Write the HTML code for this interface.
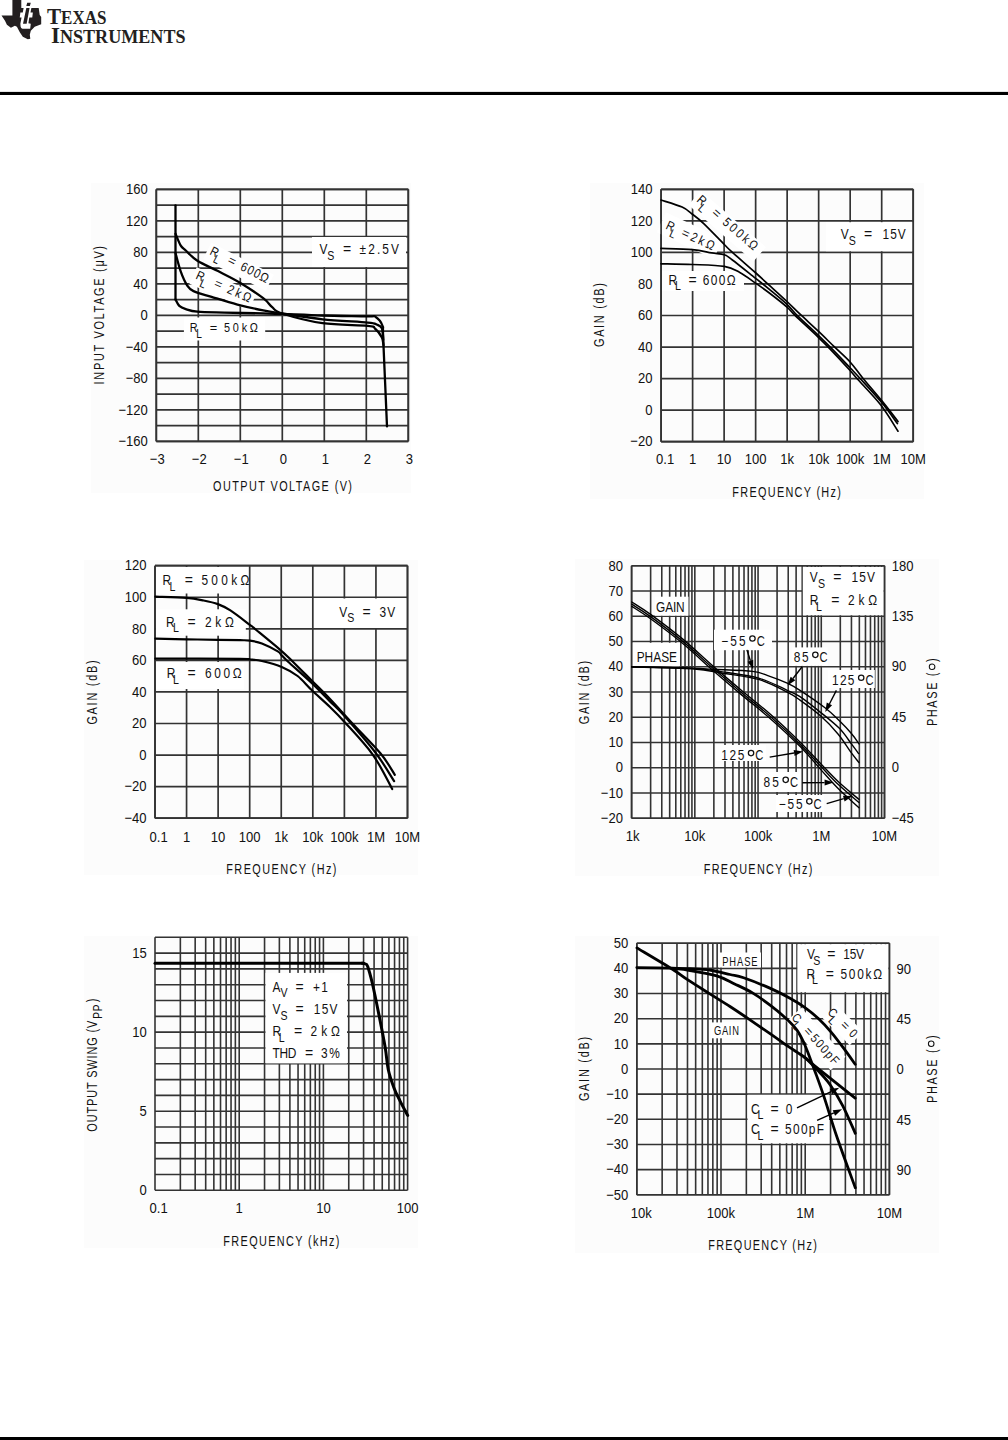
<!DOCTYPE html>
<html><head><meta charset="utf-8"><style>html,body{margin:0;padding:0;background:#fff;}svg{display:block;}</style></head>
<body><svg width="1008" height="1440" viewBox="0 0 1008 1440">
<rect width="1008" height="1440" fill="#fff"/>
<path d="M12.40,0.00 L21.30,0.00 L21.30,7.90 L38.70,7.90 L39.70,14.90 L41.20,16.90 L41.20,24.30 L34.70,26.80 L30.80,30.80 L29.80,34.70 L30.30,38.70 L27.80,39.20 L22.80,36.70 L19.80,32.20 L16.90,26.80 L14.90,25.80 L10.90,27.80 L6.90,24.80 L5.00,20.80 L1.50,15.40 L12.40,15.40 Z" fill="#231f20"/>
<path d="M23.63,8.04 L31.37,8.04 L30.48,12.5 L32.86,12.5 L32.26,17.56 L29.29,17.56 L28.39,23.21 L30.77,23.81 L30.18,28.87 L22.44,28.87 Q20.8,28.2 20.65,26.79 L20.36,23.81 L21.55,17.56 L19.76,17.56 L20.36,12.5 L22.74,12.5 Z" fill="#fff"/>
<path d="M26.31,8.04 L29.58,8.04 L26.61,23.81 L23.04,23.81 Z" fill="#231f20"/>
<path d="M27.2,2.83 L30.77,2.83 L29.88,5.95 L26.31,5.95 Z" fill="#231f20"/>
<text x="47" y="23.8" font-family="Liberation Serif" font-weight="bold" fill="#231f20" textLength="59.5" lengthAdjust="spacingAndGlyphs"><tspan font-size="23">T</tspan><tspan font-size="18.5">EXAS</tspan></text>
<text x="51" y="43.4" font-family="Liberation Serif" font-weight="bold" fill="#231f20" textLength="134.5" lengthAdjust="spacingAndGlyphs"><tspan font-size="23.5">I</tspan><tspan font-size="18.5">NSTRUMENTS</tspan></text>
<rect x="0.00" y="91.90" width="1008.00" height="3.10" fill="#000"/>
<rect x="0.00" y="1437.00" width="1008.00" height="3.00" fill="#000"/>
<rect x="91.00" y="183.00" width="320.00" height="310.00" fill="#fcfcfc"/>
<line x1="156.30" y1="189.40" x2="156.30" y2="441.30" stroke="#333" stroke-width="1.7"/>
<line x1="198.30" y1="189.40" x2="198.30" y2="441.30" stroke="#333" stroke-width="1.7"/>
<line x1="240.30" y1="189.40" x2="240.30" y2="441.30" stroke="#333" stroke-width="1.7"/>
<line x1="282.30" y1="189.40" x2="282.30" y2="441.30" stroke="#333" stroke-width="1.7"/>
<line x1="324.30" y1="189.40" x2="324.30" y2="441.30" stroke="#333" stroke-width="1.7"/>
<line x1="366.30" y1="189.40" x2="366.30" y2="441.30" stroke="#333" stroke-width="1.7"/>
<line x1="408.30" y1="189.40" x2="408.30" y2="441.30" stroke="#333" stroke-width="1.7"/>
<line x1="156.30" y1="189.40" x2="408.30" y2="189.40" stroke="#333" stroke-width="1.7"/>
<line x1="156.30" y1="205.14" x2="408.30" y2="205.14" stroke="#333" stroke-width="1.7"/>
<line x1="156.30" y1="220.89" x2="408.30" y2="220.89" stroke="#333" stroke-width="1.7"/>
<line x1="156.30" y1="236.63" x2="408.30" y2="236.63" stroke="#333" stroke-width="1.7"/>
<line x1="156.30" y1="252.38" x2="408.30" y2="252.38" stroke="#333" stroke-width="1.7"/>
<line x1="156.30" y1="268.12" x2="408.30" y2="268.12" stroke="#333" stroke-width="1.7"/>
<line x1="156.30" y1="283.86" x2="408.30" y2="283.86" stroke="#333" stroke-width="1.7"/>
<line x1="156.30" y1="299.61" x2="408.30" y2="299.61" stroke="#333" stroke-width="1.7"/>
<line x1="156.30" y1="315.35" x2="408.30" y2="315.35" stroke="#333" stroke-width="1.7"/>
<line x1="156.30" y1="331.09" x2="408.30" y2="331.09" stroke="#333" stroke-width="1.7"/>
<line x1="156.30" y1="346.84" x2="408.30" y2="346.84" stroke="#333" stroke-width="1.7"/>
<line x1="156.30" y1="362.58" x2="408.30" y2="362.58" stroke="#333" stroke-width="1.7"/>
<line x1="156.30" y1="378.33" x2="408.30" y2="378.33" stroke="#333" stroke-width="1.7"/>
<line x1="156.30" y1="394.07" x2="408.30" y2="394.07" stroke="#333" stroke-width="1.7"/>
<line x1="156.30" y1="409.81" x2="408.30" y2="409.81" stroke="#333" stroke-width="1.7"/>
<line x1="156.30" y1="425.56" x2="408.30" y2="425.56" stroke="#333" stroke-width="1.7"/>
<line x1="156.30" y1="441.30" x2="408.30" y2="441.30" stroke="#333" stroke-width="1.7"/>
<rect x="312.00" y="237.00" width="94.00" height="30.00" fill="#fff"/>
<rect x="183.90" y="317.50" width="81.30" height="23.00" fill="#fff"/>
<rect x="-3" y="-11" width="70.20" height="18" fill="#fff" transform="translate(209.00,254.00) rotate(27)"/>
<rect x="-3" y="-11" width="65.20" height="18" fill="#fff" transform="translate(195.00,278.50) rotate(24)"/>
<line x1="156.30" y1="189.40" x2="156.30" y2="441.30" stroke="#333" stroke-width="1.7"/>
<line x1="408.30" y1="189.40" x2="408.30" y2="441.30" stroke="#333" stroke-width="1.7"/>
<line x1="156.30" y1="189.40" x2="408.30" y2="189.40" stroke="#333" stroke-width="1.7"/>
<line x1="156.30" y1="441.30" x2="408.30" y2="441.30" stroke="#333" stroke-width="1.7"/>
<path d="M175.50,205.30 C175.50,221.00 175.50,283.80 175.50,299.50" fill="none" stroke="#000" stroke-width="2.3" stroke-linejoin="round" stroke-linecap="round"/>
<path d="M175.50,299.50 C176.13,300.57 177.58,304.30 179.30,305.90 C181.02,307.50 182.78,308.13 185.80,309.10 C188.82,310.07 190.95,311.12 197.40,311.70 C203.85,312.28 213.53,312.32 224.50,312.60 C235.47,312.88 253.62,313.18 263.20,313.40 C272.78,313.62 272.10,313.55 282.00,313.90 C291.90,314.25 308.32,315.10 322.60,315.50 C336.88,315.90 358.90,316.08 367.70,316.30 C376.50,316.52 372.93,315.22 375.40,316.80 C377.87,318.38 381.20,322.15 382.50,325.80 C383.80,329.45 382.45,321.93 383.20,338.70 C383.95,355.47 386.37,411.78 387.00,426.40" fill="none" stroke="#000" stroke-width="2.3" stroke-linejoin="round" stroke-linecap="round"/>
<path d="M175.50,233.70 C176.35,235.63 178.88,242.50 180.60,245.30 C182.32,248.10 183.00,247.92 185.80,250.50 C188.60,253.08 192.03,257.37 197.40,260.80 C202.77,264.23 210.90,267.45 218.00,271.10 C225.10,274.75 232.47,278.18 240.00,282.70 C247.53,287.22 257.83,294.12 263.20,298.20 C268.57,302.28 269.07,304.65 272.20,307.20 C275.33,309.75 273.60,310.83 282.00,313.50 C290.40,316.17 308.32,321.15 322.60,323.20 C336.88,325.25 358.90,324.83 367.70,325.80 C376.50,326.77 373.03,327.07 375.40,329.00 C377.77,330.93 380.55,334.73 381.90,337.40 C383.25,340.07 383.23,343.73 383.50,345.00" fill="none" stroke="#000" stroke-width="2.3" stroke-linejoin="round" stroke-linecap="round"/>
<path d="M175.50,253.00 C176.35,256.02 178.67,265.72 180.60,271.10 C182.53,276.48 184.95,281.97 187.10,285.30 C189.25,288.63 189.42,289.17 193.50,291.10 C197.58,293.03 204.28,294.65 211.60,296.90 C218.92,299.15 228.80,302.35 237.40,304.60 C246.00,306.85 255.77,308.92 263.20,310.40 C270.63,311.88 272.10,312.02 282.00,313.50 C291.90,314.98 308.32,317.78 322.60,319.30 C336.88,320.82 358.68,321.73 367.70,322.60 C376.72,323.47 374.33,323.53 376.70,324.50 C379.07,325.47 380.80,325.82 381.90,328.40 C383.00,330.98 383.07,338.07 383.30,340.00" fill="none" stroke="#000" stroke-width="2.3" stroke-linejoin="round" stroke-linecap="round"/>
<text transform="translate(147.80,194.10) scale(0.87,1)" font-family="Liberation Sans" font-size="15" font-weight="normal" fill="#111" text-anchor="end">160</text>
<text transform="translate(147.80,225.59) scale(0.87,1)" font-family="Liberation Sans" font-size="15" font-weight="normal" fill="#111" text-anchor="end">120</text>
<text transform="translate(147.80,257.07) scale(0.87,1)" font-family="Liberation Sans" font-size="15" font-weight="normal" fill="#111" text-anchor="end">80</text>
<text transform="translate(147.80,288.56) scale(0.87,1)" font-family="Liberation Sans" font-size="15" font-weight="normal" fill="#111" text-anchor="end">40</text>
<text transform="translate(147.80,320.05) scale(0.87,1)" font-family="Liberation Sans" font-size="15" font-weight="normal" fill="#111" text-anchor="end">0</text>
<text transform="translate(147.80,351.54) scale(0.87,1)" font-family="Liberation Sans" font-size="15" font-weight="normal" fill="#111" text-anchor="end">−40</text>
<text transform="translate(147.80,383.03) scale(0.87,1)" font-family="Liberation Sans" font-size="15" font-weight="normal" fill="#111" text-anchor="end">−80</text>
<text transform="translate(147.80,414.51) scale(0.87,1)" font-family="Liberation Sans" font-size="15" font-weight="normal" fill="#111" text-anchor="end">−120</text>
<text transform="translate(147.80,446.00) scale(0.87,1)" font-family="Liberation Sans" font-size="15" font-weight="normal" fill="#111" text-anchor="end">−160</text>
<text transform="translate(157.30,463.60) scale(0.87,1)" font-family="Liberation Sans" font-size="15" font-weight="normal" fill="#111" text-anchor="middle">−3</text>
<text transform="translate(199.30,463.60) scale(0.87,1)" font-family="Liberation Sans" font-size="15" font-weight="normal" fill="#111" text-anchor="middle">−2</text>
<text transform="translate(241.30,463.60) scale(0.87,1)" font-family="Liberation Sans" font-size="15" font-weight="normal" fill="#111" text-anchor="middle">−1</text>
<text transform="translate(283.30,463.60) scale(0.87,1)" font-family="Liberation Sans" font-size="15" font-weight="normal" fill="#111" text-anchor="middle">0</text>
<text transform="translate(325.30,463.60) scale(0.87,1)" font-family="Liberation Sans" font-size="15" font-weight="normal" fill="#111" text-anchor="middle">1</text>
<text transform="translate(367.30,463.60) scale(0.87,1)" font-family="Liberation Sans" font-size="15" font-weight="normal" fill="#111" text-anchor="middle">2</text>
<text transform="translate(409.30,463.60) scale(0.87,1)" font-family="Liberation Sans" font-size="15" font-weight="normal" fill="#111" text-anchor="middle">3</text>
<text transform="translate(213.00,490.60) scale(0.75,1)" font-family="Liberation Sans" font-size="14.5" font-weight="normal" fill="#111" text-anchor="start" textLength="185.33" lengthAdjust="spacing">OUTPUT VOLTAGE (V)</text>
<text transform="translate(104.00,384.40) rotate(-90) scale(0.75,1)" font-family="Liberation Sans" font-size="14.5" font-weight="normal" fill="#111" text-anchor="start" textLength="184.53" lengthAdjust="spacing">INPUT VOLTAGE (μV)</text>
<g transform="translate(319.50,254.20) rotate(0)">
<text transform="translate(0.00,0.00) scale(0.85,1)" font-family="Liberation Sans" font-size="14" font-weight="normal" fill="#111" text-anchor="start">V</text>
<text transform="translate(7.70,5.50) scale(0.85,1)" font-family="Liberation Sans" font-size="12.5" font-weight="normal" fill="#111" text-anchor="start">S</text>
<text transform="translate(23.50,0.00)" font-family="Liberation Sans" font-size="14" font-weight="normal" fill="#111" text-anchor="start">=</text>
<text transform="translate(40.10,0.00) scale(0.85,1)" font-family="Liberation Sans" font-size="14" font-weight="normal" fill="#111" text-anchor="start" textLength="46.24" lengthAdjust="spacing">±2.5V</text>
</g>
<g transform="translate(189.80,332.00) rotate(0)">
<text transform="translate(0.00,0.00) scale(0.85,1)" font-family="Liberation Sans" font-size="12.8" font-weight="normal" fill="#111" text-anchor="start">R</text>
<text transform="translate(6.50,5.50) scale(0.85,1)" font-family="Liberation Sans" font-size="12" font-weight="normal" fill="#111" text-anchor="start">L</text>
<text transform="translate(19.90,0.00)" font-family="Liberation Sans" font-size="12.8" font-weight="normal" fill="#111" text-anchor="start">=</text>
<text transform="translate(34.20,0.00) scale(0.85,1)" font-family="Liberation Sans" font-size="12.8" font-weight="normal" fill="#111" text-anchor="start" textLength="40.00" lengthAdjust="spacing">50kΩ</text>
</g>
<g transform="translate(209.00,254.00) rotate(27)">
<text transform="translate(0.00,0.00) scale(0.85,1)" font-family="Liberation Sans" font-size="13" font-weight="normal" fill="#111" text-anchor="start">R</text>
<text transform="translate(6.50,5.50) scale(0.85,1)" font-family="Liberation Sans" font-size="12" font-weight="normal" fill="#111" text-anchor="start">L</text>
<text transform="translate(19.90,0.00)" font-family="Liberation Sans" font-size="13" font-weight="normal" fill="#111" text-anchor="start">=</text>
<text transform="translate(34.20,0.00) scale(0.85,1)" font-family="Liberation Sans" font-size="13" font-weight="normal" fill="#111" text-anchor="start" textLength="35.29" lengthAdjust="spacing">600Ω</text>
</g>
<g transform="translate(195.00,278.50) rotate(24)">
<text transform="translate(0.00,0.00) scale(0.85,1)" font-family="Liberation Sans" font-size="13" font-weight="normal" fill="#111" text-anchor="start">R</text>
<text transform="translate(6.50,5.50) scale(0.85,1)" font-family="Liberation Sans" font-size="12" font-weight="normal" fill="#111" text-anchor="start">L</text>
<text transform="translate(19.90,0.00)" font-family="Liberation Sans" font-size="13" font-weight="normal" fill="#111" text-anchor="start">=</text>
<text transform="translate(34.20,0.00) scale(0.85,1)" font-family="Liberation Sans" font-size="13" font-weight="normal" fill="#111" text-anchor="start" textLength="29.41" lengthAdjust="spacing">2kΩ</text>
</g>
<rect x="590.00" y="183.00" width="334.00" height="316.00" fill="#fcfcfc"/>
<line x1="661.10" y1="189.30" x2="661.10" y2="441.70" stroke="#333" stroke-width="1.7"/>
<line x1="692.61" y1="189.30" x2="692.61" y2="441.70" stroke="#333" stroke-width="1.7"/>
<line x1="724.12" y1="189.30" x2="724.12" y2="441.70" stroke="#333" stroke-width="1.7"/>
<line x1="755.64" y1="189.30" x2="755.64" y2="441.70" stroke="#333" stroke-width="1.7"/>
<line x1="787.15" y1="189.30" x2="787.15" y2="441.70" stroke="#333" stroke-width="1.7"/>
<line x1="818.66" y1="189.30" x2="818.66" y2="441.70" stroke="#333" stroke-width="1.7"/>
<line x1="850.18" y1="189.30" x2="850.18" y2="441.70" stroke="#333" stroke-width="1.7"/>
<line x1="881.69" y1="189.30" x2="881.69" y2="441.70" stroke="#333" stroke-width="1.7"/>
<line x1="913.20" y1="189.30" x2="913.20" y2="441.70" stroke="#333" stroke-width="1.7"/>
<line x1="661.10" y1="189.30" x2="913.20" y2="189.30" stroke="#333" stroke-width="1.7"/>
<line x1="661.10" y1="220.85" x2="913.20" y2="220.85" stroke="#333" stroke-width="1.7"/>
<line x1="661.10" y1="252.40" x2="913.20" y2="252.40" stroke="#333" stroke-width="1.7"/>
<line x1="661.10" y1="283.95" x2="913.20" y2="283.95" stroke="#333" stroke-width="1.7"/>
<line x1="661.10" y1="315.50" x2="913.20" y2="315.50" stroke="#333" stroke-width="1.7"/>
<line x1="661.10" y1="347.05" x2="913.20" y2="347.05" stroke="#333" stroke-width="1.7"/>
<line x1="661.10" y1="378.60" x2="913.20" y2="378.60" stroke="#333" stroke-width="1.7"/>
<line x1="661.10" y1="410.15" x2="913.20" y2="410.15" stroke="#333" stroke-width="1.7"/>
<line x1="661.10" y1="441.70" x2="913.20" y2="441.70" stroke="#333" stroke-width="1.7"/>
<rect x="826.00" y="222.20" width="86.50" height="29.00" fill="#fff"/>
<rect x="662.00" y="271.00" width="82.00" height="20.00" fill="#fff"/>
<rect x="-3" y="-11" width="86.00" height="19" fill="#fff" transform="translate(696.00,201.00) rotate(41)"/>
<rect x="-6" y="-15" width="63.00" height="22" fill="#fff" transform="translate(665.00,228.50) rotate(25)"/>
<line x1="661.10" y1="189.30" x2="661.10" y2="441.70" stroke="#333" stroke-width="1.7"/>
<line x1="913.20" y1="189.30" x2="913.20" y2="441.70" stroke="#333" stroke-width="1.7"/>
<line x1="661.10" y1="189.30" x2="913.20" y2="189.30" stroke="#333" stroke-width="1.7"/>
<line x1="661.10" y1="441.70" x2="913.20" y2="441.70" stroke="#333" stroke-width="1.7"/>
<path d="M661.00,200.00 C664.52,201.18 676.87,204.73 682.10,207.10 C687.33,209.47 688.75,211.42 692.40,214.20 C696.05,216.98 698.68,218.75 704.00,223.80 C709.32,228.85 719.65,239.82 724.30,244.50 C728.95,249.18 726.73,247.23 731.90,251.90 C737.07,256.57 748.95,266.83 755.30,272.50 C761.65,278.17 764.72,281.07 770.00,285.90 C775.28,290.73 781.90,296.70 787.00,301.50 C792.10,306.30 795.33,309.72 800.60,314.70 C805.87,319.68 813.00,326.07 818.60,331.40 C824.20,336.73 828.92,341.57 834.20,346.70 C839.48,351.83 845.58,357.03 850.30,362.20 C855.02,367.37 857.23,371.25 862.50,377.70 C867.77,384.15 875.98,393.60 881.90,400.90 C887.82,408.20 895.32,418.07 898.00,421.50" fill="none" stroke="#000" stroke-width="1.7" stroke-linejoin="round" stroke-linecap="round"/>
<path d="M661.00,248.40 C666.23,248.60 683.95,248.85 692.40,249.60 C700.85,250.35 706.38,252.03 711.70,252.90 C717.02,253.77 720.85,253.62 724.30,254.80 C727.75,255.98 727.23,256.12 732.40,260.00 C737.57,263.88 749.03,273.13 755.30,278.10 C761.57,283.07 764.72,285.43 770.00,289.80 C775.28,294.17 782.48,300.03 787.00,304.30 C791.52,308.57 791.83,310.18 797.10,315.40 C802.37,320.62 812.70,329.93 818.60,335.60 C824.50,341.27 827.22,344.00 832.50,349.40 C837.78,354.80 845.62,363.07 850.30,368.00 C854.98,372.93 855.33,373.20 860.60,379.00 C865.87,384.80 875.77,395.38 881.90,402.80 C888.03,410.22 894.82,420.05 897.40,423.50" fill="none" stroke="#000" stroke-width="1.7" stroke-linejoin="round" stroke-linecap="round"/>
<path d="M661.00,263.80 C666.23,263.92 681.85,264.07 692.40,264.50 C702.95,264.93 716.40,265.07 724.30,266.40 C732.20,267.73 734.63,269.75 739.80,272.50 C744.97,275.25 750.27,279.40 755.30,282.90 C760.33,286.40 764.72,289.47 770.00,293.50 C775.28,297.53 782.83,303.45 787.00,307.10 C791.17,310.75 789.73,310.32 795.00,315.40 C800.27,320.48 812.70,331.93 818.60,337.60 C824.50,343.27 825.23,344.00 830.40,349.40 C835.57,354.80 845.10,365.07 849.60,370.00 C854.10,374.93 852.23,373.20 857.40,379.00 C862.57,384.80 873.83,396.10 880.60,404.80 C887.37,413.50 895.10,426.80 898.00,431.20" fill="none" stroke="#000" stroke-width="1.7" stroke-linejoin="round" stroke-linecap="round"/>
<text transform="translate(652.40,194.00) scale(0.87,1)" font-family="Liberation Sans" font-size="15" font-weight="normal" fill="#111" text-anchor="end">140</text>
<text transform="translate(652.40,225.55) scale(0.87,1)" font-family="Liberation Sans" font-size="15" font-weight="normal" fill="#111" text-anchor="end">120</text>
<text transform="translate(652.40,257.10) scale(0.87,1)" font-family="Liberation Sans" font-size="15" font-weight="normal" fill="#111" text-anchor="end">100</text>
<text transform="translate(652.40,288.65) scale(0.87,1)" font-family="Liberation Sans" font-size="15" font-weight="normal" fill="#111" text-anchor="end">80</text>
<text transform="translate(652.40,320.20) scale(0.87,1)" font-family="Liberation Sans" font-size="15" font-weight="normal" fill="#111" text-anchor="end">60</text>
<text transform="translate(652.40,351.75) scale(0.87,1)" font-family="Liberation Sans" font-size="15" font-weight="normal" fill="#111" text-anchor="end">40</text>
<text transform="translate(652.40,383.30) scale(0.87,1)" font-family="Liberation Sans" font-size="15" font-weight="normal" fill="#111" text-anchor="end">20</text>
<text transform="translate(652.40,414.85) scale(0.87,1)" font-family="Liberation Sans" font-size="15" font-weight="normal" fill="#111" text-anchor="end">0</text>
<text transform="translate(652.40,446.40) scale(0.87,1)" font-family="Liberation Sans" font-size="15" font-weight="normal" fill="#111" text-anchor="end">−20</text>
<text transform="translate(665.10,464.40) scale(0.87,1)" font-family="Liberation Sans" font-size="15" font-weight="normal" fill="#111" text-anchor="middle">0.1</text>
<text transform="translate(692.61,464.40) scale(0.87,1)" font-family="Liberation Sans" font-size="15" font-weight="normal" fill="#111" text-anchor="middle">1</text>
<text transform="translate(724.12,464.40) scale(0.87,1)" font-family="Liberation Sans" font-size="15" font-weight="normal" fill="#111" text-anchor="middle">10</text>
<text transform="translate(755.64,464.40) scale(0.87,1)" font-family="Liberation Sans" font-size="15" font-weight="normal" fill="#111" text-anchor="middle">100</text>
<text transform="translate(787.15,464.40) scale(0.87,1)" font-family="Liberation Sans" font-size="15" font-weight="normal" fill="#111" text-anchor="middle">1k</text>
<text transform="translate(818.66,464.40) scale(0.87,1)" font-family="Liberation Sans" font-size="15" font-weight="normal" fill="#111" text-anchor="middle">10k</text>
<text transform="translate(850.18,464.40) scale(0.87,1)" font-family="Liberation Sans" font-size="15" font-weight="normal" fill="#111" text-anchor="middle">100k</text>
<text transform="translate(881.69,464.40) scale(0.87,1)" font-family="Liberation Sans" font-size="15" font-weight="normal" fill="#111" text-anchor="middle">1M</text>
<text transform="translate(913.20,464.40) scale(0.87,1)" font-family="Liberation Sans" font-size="15" font-weight="normal" fill="#111" text-anchor="middle">10M</text>
<text transform="translate(732.30,496.50) scale(0.75,1)" font-family="Liberation Sans" font-size="14.5" font-weight="normal" fill="#111" text-anchor="start" textLength="144.80" lengthAdjust="spacing">FREQUENCY (Hz)</text>
<text transform="translate(603.50,347.00) rotate(-90) scale(0.75,1)" font-family="Liberation Sans" font-size="14.5" font-weight="normal" fill="#111" text-anchor="start" textLength="85.07" lengthAdjust="spacing">GAIN (dB)</text>
<g transform="translate(840.80,239.30) rotate(0)">
<text transform="translate(0.00,0.00) scale(0.85,1)" font-family="Liberation Sans" font-size="14" font-weight="normal" fill="#111" text-anchor="start">V</text>
<text transform="translate(8.00,5.50) scale(0.85,1)" font-family="Liberation Sans" font-size="12.5" font-weight="normal" fill="#111" text-anchor="start">S</text>
<text transform="translate(23.30,0.00)" font-family="Liberation Sans" font-size="14" font-weight="normal" fill="#111" text-anchor="start">=</text>
<text transform="translate(41.70,0.00) scale(0.85,1)" font-family="Liberation Sans" font-size="14" font-weight="normal" fill="#111" text-anchor="start" textLength="27.41" lengthAdjust="spacing">15V</text>
</g>
<g transform="translate(668.50,284.50) rotate(0)">
<text transform="translate(0.00,0.00) scale(0.85,1)" font-family="Liberation Sans" font-size="14" font-weight="normal" fill="#111" text-anchor="start">R</text>
<text transform="translate(6.50,5.50) scale(0.85,1)" font-family="Liberation Sans" font-size="12.5" font-weight="normal" fill="#111" text-anchor="start">L</text>
<text transform="translate(19.90,0.00)" font-family="Liberation Sans" font-size="14" font-weight="normal" fill="#111" text-anchor="start">=</text>
<text transform="translate(34.20,0.00) scale(0.85,1)" font-family="Liberation Sans" font-size="14" font-weight="normal" fill="#111" text-anchor="start" textLength="38.82" lengthAdjust="spacing">600Ω</text>
</g>
<g transform="translate(696.00,201.00) rotate(41)">
<text transform="translate(0.00,0.00) scale(0.85,1)" font-family="Liberation Sans" font-size="13" font-weight="normal" fill="#111" text-anchor="start">R</text>
<text transform="translate(6.50,5.50) scale(0.85,1)" font-family="Liberation Sans" font-size="12" font-weight="normal" fill="#111" text-anchor="start">L</text>
<text transform="translate(19.90,0.00)" font-family="Liberation Sans" font-size="13" font-weight="normal" fill="#111" text-anchor="start">=</text>
<text transform="translate(34.20,0.00) scale(0.85,1)" font-family="Liberation Sans" font-size="13" font-weight="normal" fill="#111" text-anchor="start" textLength="49.41" lengthAdjust="spacing">500kΩ</text>
</g>
<g transform="translate(665.00,228.50) rotate(25)">
<text transform="translate(0.00,0.00) scale(0.85,1)" font-family="Liberation Sans" font-size="13" font-weight="normal" fill="#111" text-anchor="start">R</text>
<text transform="translate(6.50,5.50) scale(0.85,1)" font-family="Liberation Sans" font-size="12" font-weight="normal" fill="#111" text-anchor="start">L</text>
<text transform="translate(17.00,0.00)" font-family="Liberation Sans" font-size="13" font-weight="normal" fill="#111" text-anchor="start">=</text>
<text transform="translate(27.00,0.00) scale(0.85,1)" font-family="Liberation Sans" font-size="13" font-weight="normal" fill="#111" text-anchor="start" textLength="29.41" lengthAdjust="spacing">2kΩ</text>
</g>
<rect x="84.00" y="560.00" width="334.00" height="315.00" fill="#fcfcfc"/>
<line x1="155.00" y1="565.70" x2="155.00" y2="818.20" stroke="#333" stroke-width="1.7"/>
<line x1="186.56" y1="565.70" x2="186.56" y2="818.20" stroke="#333" stroke-width="1.7"/>
<line x1="218.12" y1="565.70" x2="218.12" y2="818.20" stroke="#333" stroke-width="1.7"/>
<line x1="249.69" y1="565.70" x2="249.69" y2="818.20" stroke="#333" stroke-width="1.7"/>
<line x1="281.25" y1="565.70" x2="281.25" y2="818.20" stroke="#333" stroke-width="1.7"/>
<line x1="312.81" y1="565.70" x2="312.81" y2="818.20" stroke="#333" stroke-width="1.7"/>
<line x1="344.38" y1="565.70" x2="344.38" y2="818.20" stroke="#333" stroke-width="1.7"/>
<line x1="375.94" y1="565.70" x2="375.94" y2="818.20" stroke="#333" stroke-width="1.7"/>
<line x1="407.50" y1="565.70" x2="407.50" y2="818.20" stroke="#333" stroke-width="1.7"/>
<line x1="155.00" y1="565.70" x2="407.50" y2="565.70" stroke="#333" stroke-width="1.7"/>
<line x1="155.00" y1="597.26" x2="407.50" y2="597.26" stroke="#333" stroke-width="1.7"/>
<line x1="155.00" y1="628.83" x2="407.50" y2="628.83" stroke="#333" stroke-width="1.7"/>
<line x1="155.00" y1="660.39" x2="407.50" y2="660.39" stroke="#333" stroke-width="1.7"/>
<line x1="155.00" y1="691.95" x2="407.50" y2="691.95" stroke="#333" stroke-width="1.7"/>
<line x1="155.00" y1="723.51" x2="407.50" y2="723.51" stroke="#333" stroke-width="1.7"/>
<line x1="155.00" y1="755.08" x2="407.50" y2="755.08" stroke="#333" stroke-width="1.7"/>
<line x1="155.00" y1="786.64" x2="407.50" y2="786.64" stroke="#333" stroke-width="1.7"/>
<line x1="155.00" y1="818.20" x2="407.50" y2="818.20" stroke="#333" stroke-width="1.7"/>
<rect x="156.00" y="567.00" width="92.00" height="26.50" fill="#fff"/>
<rect x="156.00" y="609.30" width="89.80" height="26.40" fill="#fff"/>
<rect x="156.00" y="662.00" width="88.00" height="27.00" fill="#fff"/>
<rect x="314.00" y="598.50" width="92.50" height="29.50" fill="#fff"/>
<line x1="155.00" y1="565.70" x2="155.00" y2="818.20" stroke="#333" stroke-width="1.7"/>
<line x1="407.50" y1="565.70" x2="407.50" y2="818.20" stroke="#333" stroke-width="1.7"/>
<line x1="155.00" y1="565.70" x2="407.50" y2="565.70" stroke="#333" stroke-width="1.7"/>
<line x1="155.00" y1="818.20" x2="407.50" y2="818.20" stroke="#333" stroke-width="1.7"/>
<path d="M155.40,596.60 C160.60,596.82 178.57,597.25 186.60,597.90 C194.63,598.55 198.38,599.47 203.60,600.50 C208.82,601.53 213.43,602.45 217.90,604.10 C222.37,605.75 225.13,606.98 230.40,610.40 C235.67,613.82 245.18,621.33 249.50,624.60 C253.82,627.87 251.18,625.80 256.30,630.00 C261.42,634.20 274.23,644.63 280.20,649.80 C286.17,654.97 286.82,655.83 292.10,661.00 C297.38,666.17 305.58,674.47 311.90,680.80 C318.22,687.13 323.28,691.93 330.00,699.00 C336.72,706.07 343.77,714.12 352.20,723.20 C360.63,732.28 373.50,744.90 380.60,753.50 C387.70,762.10 392.43,771.25 394.80,774.80" fill="none" stroke="#000" stroke-width="2.2" stroke-linejoin="round" stroke-linecap="round"/>
<path d="M155.40,638.60 C160.60,638.72 176.18,639.10 186.60,639.30 C197.02,639.50 209.00,639.65 217.90,639.80 C226.80,639.95 234.65,640.07 240.00,640.20 C245.35,640.33 246.35,640.05 250.00,640.60 C253.65,641.15 257.27,641.70 261.90,643.50 C266.53,645.30 274.50,649.42 277.80,651.40 C281.10,653.38 279.98,653.68 281.70,655.40 C283.42,657.12 283.07,657.07 288.10,661.70 C293.13,666.33 304.92,676.58 311.90,683.20 C318.88,689.82 324.57,695.92 330.00,701.40 C335.43,706.88 336.82,707.42 344.50,716.10 C352.18,724.78 367.83,742.65 376.10,753.50 C384.37,764.35 391.10,776.58 394.10,781.20" fill="none" stroke="#000" stroke-width="2.2" stroke-linejoin="round" stroke-linecap="round"/>
<path d="M155.40,658.60 C169.50,658.65 224.23,658.77 240.00,658.90 C255.77,659.03 246.35,659.05 250.00,659.40 C253.65,659.75 256.62,659.75 261.90,661.00 C267.18,662.25 275.75,664.40 281.70,666.90 C287.65,669.40 292.57,672.10 297.60,676.00 C302.63,679.90 306.50,685.13 311.90,690.30 C317.30,695.47 324.57,701.73 330.00,707.00 C335.43,712.27 337.35,713.93 344.50,721.90 C351.65,729.87 364.95,743.62 372.90,754.80 C380.85,765.98 388.98,783.30 392.20,789.00" fill="none" stroke="#000" stroke-width="2.2" stroke-linejoin="round" stroke-linecap="round"/>
<text transform="translate(146.50,570.40) scale(0.87,1)" font-family="Liberation Sans" font-size="15" font-weight="normal" fill="#111" text-anchor="end">120</text>
<text transform="translate(146.50,601.96) scale(0.87,1)" font-family="Liberation Sans" font-size="15" font-weight="normal" fill="#111" text-anchor="end">100</text>
<text transform="translate(146.50,633.53) scale(0.87,1)" font-family="Liberation Sans" font-size="15" font-weight="normal" fill="#111" text-anchor="end">80</text>
<text transform="translate(146.50,665.09) scale(0.87,1)" font-family="Liberation Sans" font-size="15" font-weight="normal" fill="#111" text-anchor="end">60</text>
<text transform="translate(146.50,696.65) scale(0.87,1)" font-family="Liberation Sans" font-size="15" font-weight="normal" fill="#111" text-anchor="end">40</text>
<text transform="translate(146.50,728.21) scale(0.87,1)" font-family="Liberation Sans" font-size="15" font-weight="normal" fill="#111" text-anchor="end">20</text>
<text transform="translate(146.50,759.78) scale(0.87,1)" font-family="Liberation Sans" font-size="15" font-weight="normal" fill="#111" text-anchor="end">0</text>
<text transform="translate(146.50,791.34) scale(0.87,1)" font-family="Liberation Sans" font-size="15" font-weight="normal" fill="#111" text-anchor="end">−20</text>
<text transform="translate(146.50,822.90) scale(0.87,1)" font-family="Liberation Sans" font-size="15" font-weight="normal" fill="#111" text-anchor="end">−40</text>
<text transform="translate(158.60,841.80) scale(0.87,1)" font-family="Liberation Sans" font-size="15" font-weight="normal" fill="#111" text-anchor="middle">0.1</text>
<text transform="translate(186.56,841.80) scale(0.87,1)" font-family="Liberation Sans" font-size="15" font-weight="normal" fill="#111" text-anchor="middle">1</text>
<text transform="translate(218.12,841.80) scale(0.87,1)" font-family="Liberation Sans" font-size="15" font-weight="normal" fill="#111" text-anchor="middle">10</text>
<text transform="translate(249.69,841.80) scale(0.87,1)" font-family="Liberation Sans" font-size="15" font-weight="normal" fill="#111" text-anchor="middle">100</text>
<text transform="translate(281.25,841.80) scale(0.87,1)" font-family="Liberation Sans" font-size="15" font-weight="normal" fill="#111" text-anchor="middle">1k</text>
<text transform="translate(312.81,841.80) scale(0.87,1)" font-family="Liberation Sans" font-size="15" font-weight="normal" fill="#111" text-anchor="middle">10k</text>
<text transform="translate(344.38,841.80) scale(0.87,1)" font-family="Liberation Sans" font-size="15" font-weight="normal" fill="#111" text-anchor="middle">100k</text>
<text transform="translate(375.94,841.80) scale(0.87,1)" font-family="Liberation Sans" font-size="15" font-weight="normal" fill="#111" text-anchor="middle">1M</text>
<text transform="translate(407.50,841.80) scale(0.87,1)" font-family="Liberation Sans" font-size="15" font-weight="normal" fill="#111" text-anchor="middle">10M</text>
<text transform="translate(226.30,873.60) scale(0.75,1)" font-family="Liberation Sans" font-size="14.5" font-weight="normal" fill="#111" text-anchor="start" textLength="146.80" lengthAdjust="spacing">FREQUENCY (Hz)</text>
<text transform="translate(96.50,724.60) rotate(-90) scale(0.75,1)" font-family="Liberation Sans" font-size="14.5" font-weight="normal" fill="#111" text-anchor="start" textLength="85.60" lengthAdjust="spacing">GAIN (dB)</text>
<g transform="translate(339.30,616.80) rotate(0)">
<text transform="translate(0.00,0.00) scale(0.85,1)" font-family="Liberation Sans" font-size="14" font-weight="normal" fill="#111" text-anchor="start">V</text>
<text transform="translate(7.90,5.50) scale(0.85,1)" font-family="Liberation Sans" font-size="12.5" font-weight="normal" fill="#111" text-anchor="start">S</text>
<text transform="translate(23.30,0.00)" font-family="Liberation Sans" font-size="14" font-weight="normal" fill="#111" text-anchor="start">=</text>
<text transform="translate(40.10,0.00) scale(0.85,1)" font-family="Liberation Sans" font-size="14" font-weight="normal" fill="#111" text-anchor="start" textLength="18.71" lengthAdjust="spacing">3V</text>
</g>
<g transform="translate(162.50,585.00) rotate(0)">
<text transform="translate(0.00,0.00) scale(0.85,1)" font-family="Liberation Sans" font-size="14" font-weight="normal" fill="#111" text-anchor="start">R</text>
<text transform="translate(6.90,5.50) scale(0.85,1)" font-family="Liberation Sans" font-size="12.5" font-weight="normal" fill="#111" text-anchor="start">L</text>
<text transform="translate(22.20,0.00)" font-family="Liberation Sans" font-size="14" font-weight="normal" fill="#111" text-anchor="start">=</text>
<text transform="translate(38.90,0.00) scale(0.85,1)" font-family="Liberation Sans" font-size="14" font-weight="normal" fill="#111" text-anchor="start" textLength="56.35" lengthAdjust="spacing">500kΩ</text>
</g>
<g transform="translate(166.00,626.70) rotate(0)">
<text transform="translate(0.00,0.00) scale(0.85,1)" font-family="Liberation Sans" font-size="14" font-weight="normal" fill="#111" text-anchor="start">R</text>
<text transform="translate(6.90,5.50) scale(0.85,1)" font-family="Liberation Sans" font-size="12.5" font-weight="normal" fill="#111" text-anchor="start">L</text>
<text transform="translate(21.50,0.00)" font-family="Liberation Sans" font-size="14" font-weight="normal" fill="#111" text-anchor="start">=</text>
<text transform="translate(38.90,0.00) scale(0.85,1)" font-family="Liberation Sans" font-size="14" font-weight="normal" fill="#111" text-anchor="start" textLength="34.24" lengthAdjust="spacing">2kΩ</text>
</g>
<g transform="translate(166.70,678.00) rotate(0)">
<text transform="translate(0.00,0.00) scale(0.85,1)" font-family="Liberation Sans" font-size="14" font-weight="normal" fill="#111" text-anchor="start">R</text>
<text transform="translate(6.20,5.50) scale(0.85,1)" font-family="Liberation Sans" font-size="12.5" font-weight="normal" fill="#111" text-anchor="start">L</text>
<text transform="translate(20.80,0.00)" font-family="Liberation Sans" font-size="14" font-weight="normal" fill="#111" text-anchor="start">=</text>
<text transform="translate(38.20,0.00) scale(0.85,1)" font-family="Liberation Sans" font-size="14" font-weight="normal" fill="#111" text-anchor="start" textLength="43.29" lengthAdjust="spacing">600Ω</text>
</g>
<rect x="575.00" y="559.00" width="364.00" height="317.00" fill="#fcfcfc"/>
<line x1="631.60" y1="565.80" x2="631.60" y2="818.20" stroke="#333" stroke-width="1.6"/>
<line x1="650.63" y1="565.80" x2="650.63" y2="818.20" stroke="#333" stroke-width="1.6"/>
<line x1="661.77" y1="565.80" x2="661.77" y2="818.20" stroke="#333" stroke-width="1.6"/>
<line x1="669.67" y1="565.80" x2="669.67" y2="818.20" stroke="#333" stroke-width="1.6"/>
<line x1="675.79" y1="565.80" x2="675.79" y2="818.20" stroke="#333" stroke-width="1.6"/>
<line x1="680.80" y1="565.80" x2="680.80" y2="818.20" stroke="#333" stroke-width="1.6"/>
<line x1="685.03" y1="565.80" x2="685.03" y2="818.20" stroke="#333" stroke-width="1.6"/>
<line x1="688.70" y1="565.80" x2="688.70" y2="818.20" stroke="#333" stroke-width="1.6"/>
<line x1="691.93" y1="565.80" x2="691.93" y2="818.20" stroke="#333" stroke-width="1.6"/>
<line x1="694.83" y1="565.80" x2="694.83" y2="818.20" stroke="#333" stroke-width="1.6"/>
<line x1="713.86" y1="565.80" x2="713.86" y2="818.20" stroke="#333" stroke-width="1.6"/>
<line x1="724.99" y1="565.80" x2="724.99" y2="818.20" stroke="#333" stroke-width="1.6"/>
<line x1="732.89" y1="565.80" x2="732.89" y2="818.20" stroke="#333" stroke-width="1.6"/>
<line x1="739.02" y1="565.80" x2="739.02" y2="818.20" stroke="#333" stroke-width="1.6"/>
<line x1="744.02" y1="565.80" x2="744.02" y2="818.20" stroke="#333" stroke-width="1.6"/>
<line x1="748.26" y1="565.80" x2="748.26" y2="818.20" stroke="#333" stroke-width="1.6"/>
<line x1="751.92" y1="565.80" x2="751.92" y2="818.20" stroke="#333" stroke-width="1.6"/>
<line x1="755.16" y1="565.80" x2="755.16" y2="818.20" stroke="#333" stroke-width="1.6"/>
<line x1="758.05" y1="565.80" x2="758.05" y2="818.20" stroke="#333" stroke-width="1.6"/>
<line x1="777.08" y1="565.80" x2="777.08" y2="818.20" stroke="#333" stroke-width="1.6"/>
<line x1="788.22" y1="565.80" x2="788.22" y2="818.20" stroke="#333" stroke-width="1.6"/>
<line x1="796.12" y1="565.80" x2="796.12" y2="818.20" stroke="#333" stroke-width="1.6"/>
<line x1="802.24" y1="565.80" x2="802.24" y2="818.20" stroke="#333" stroke-width="1.6"/>
<line x1="807.25" y1="565.80" x2="807.25" y2="818.20" stroke="#333" stroke-width="1.6"/>
<line x1="811.48" y1="565.80" x2="811.48" y2="818.20" stroke="#333" stroke-width="1.6"/>
<line x1="815.15" y1="565.80" x2="815.15" y2="818.20" stroke="#333" stroke-width="1.6"/>
<line x1="818.38" y1="565.80" x2="818.38" y2="818.20" stroke="#333" stroke-width="1.6"/>
<line x1="821.27" y1="565.80" x2="821.27" y2="818.20" stroke="#333" stroke-width="1.6"/>
<line x1="840.31" y1="565.80" x2="840.31" y2="818.20" stroke="#333" stroke-width="1.6"/>
<line x1="851.44" y1="565.80" x2="851.44" y2="818.20" stroke="#333" stroke-width="1.6"/>
<line x1="859.34" y1="565.80" x2="859.34" y2="818.20" stroke="#333" stroke-width="1.6"/>
<line x1="865.47" y1="565.80" x2="865.47" y2="818.20" stroke="#333" stroke-width="1.6"/>
<line x1="870.47" y1="565.80" x2="870.47" y2="818.20" stroke="#333" stroke-width="1.6"/>
<line x1="874.71" y1="565.80" x2="874.71" y2="818.20" stroke="#333" stroke-width="1.6"/>
<line x1="878.37" y1="565.80" x2="878.37" y2="818.20" stroke="#333" stroke-width="1.6"/>
<line x1="881.61" y1="565.80" x2="881.61" y2="818.20" stroke="#333" stroke-width="1.6"/>
<line x1="884.50" y1="565.80" x2="884.50" y2="818.20" stroke="#333" stroke-width="1.6"/>
<line x1="631.60" y1="565.80" x2="884.50" y2="565.80" stroke="#333" stroke-width="1.6"/>
<line x1="631.60" y1="591.04" x2="884.50" y2="591.04" stroke="#333" stroke-width="1.6"/>
<line x1="631.60" y1="616.28" x2="884.50" y2="616.28" stroke="#333" stroke-width="1.6"/>
<line x1="631.60" y1="641.52" x2="884.50" y2="641.52" stroke="#333" stroke-width="1.6"/>
<line x1="631.60" y1="666.76" x2="884.50" y2="666.76" stroke="#333" stroke-width="1.6"/>
<line x1="631.60" y1="692.00" x2="884.50" y2="692.00" stroke="#333" stroke-width="1.6"/>
<line x1="631.60" y1="717.24" x2="884.50" y2="717.24" stroke="#333" stroke-width="1.6"/>
<line x1="631.60" y1="742.48" x2="884.50" y2="742.48" stroke="#333" stroke-width="1.6"/>
<line x1="631.60" y1="767.72" x2="884.50" y2="767.72" stroke="#333" stroke-width="1.6"/>
<line x1="631.60" y1="792.96" x2="884.50" y2="792.96" stroke="#333" stroke-width="1.6"/>
<line x1="631.60" y1="818.20" x2="884.50" y2="818.20" stroke="#333" stroke-width="1.6"/>
<rect x="802.80" y="567.00" width="80.80" height="48.20" fill="#fff"/>
<rect x="655.00" y="596.70" width="33.50" height="19.00" fill="#fff"/>
<rect x="632.60" y="642.80" width="47.00" height="23.50" fill="#fff"/>
<rect x="714.00" y="629.70" width="58.00" height="20.50" fill="#fff"/>
<rect x="791.70" y="647.40" width="36.00" height="18.50" fill="#fff"/>
<rect x="827.80" y="670.00" width="47.00" height="18.00" fill="#fff"/>
<rect x="716.00" y="745.00" width="50.00" height="16.00" fill="#fff"/>
<rect x="760.00" y="772.00" width="40.00" height="20.00" fill="#fff"/>
<rect x="776.00" y="795.00" width="48.00" height="17.00" fill="#fff"/>
<line x1="631.60" y1="565.80" x2="631.60" y2="818.20" stroke="#333" stroke-width="1.6"/>
<line x1="884.50" y1="565.80" x2="884.50" y2="818.20" stroke="#333" stroke-width="1.6"/>
<line x1="631.60" y1="565.80" x2="884.50" y2="565.80" stroke="#333" stroke-width="1.6"/>
<line x1="631.60" y1="818.20" x2="884.50" y2="818.20" stroke="#333" stroke-width="1.6"/>
<path d="M631.80,602.00 C634.93,604.07 642.15,608.25 650.60,614.40 C659.05,620.55 672.10,630.28 682.50,638.90 C692.90,647.52 703.05,657.42 713.00,666.10 C722.95,674.78 732.49,682.85 742.20,691.00 C751.91,699.15 761.58,706.47 771.25,715.00 C780.92,723.53 791.79,733.90 800.20,742.20 C808.61,750.49 815.25,758.08 821.70,764.77 C828.15,771.45 832.68,776.53 838.90,782.31 C845.12,788.08 855.65,796.55 859.00,799.40" fill="none" stroke="#000" stroke-width="1.4" stroke-linejoin="round" stroke-linecap="round"/>
<path d="M631.80,604.20 C634.93,606.27 642.15,610.45 650.60,616.60 C659.05,622.75 672.10,632.48 682.50,641.10 C692.90,649.72 703.05,659.62 713.00,668.30 C722.95,676.98 732.49,685.05 742.20,693.20 C751.91,701.35 761.58,708.67 771.25,717.20 C780.92,725.73 791.79,736.05 800.20,744.40 C808.61,752.75 815.25,760.52 821.70,767.30 C828.15,774.08 832.68,779.23 838.90,785.10 C845.12,790.97 855.65,799.60 859.00,802.50" fill="none" stroke="#000" stroke-width="1.4" stroke-linejoin="round" stroke-linecap="round"/>
<path d="M631.80,606.40 C634.93,608.47 642.15,612.65 650.60,618.80 C659.05,624.95 672.10,634.68 682.50,643.30 C692.90,651.92 703.05,661.82 713.00,670.50 C722.95,679.18 732.49,687.25 742.20,695.40 C751.91,703.55 761.58,710.86 771.25,719.40 C780.92,727.94 791.79,738.08 800.20,746.61 C808.61,755.14 815.25,763.49 821.70,770.60 C828.15,777.71 832.68,783.10 838.90,789.28 C845.12,795.46 855.65,804.63 859.00,807.70" fill="none" stroke="#000" stroke-width="1.4" stroke-linejoin="round" stroke-linecap="round"/>
<path d="M631.80,666.80 C641.87,667.03 678.57,667.78 692.20,668.20 C705.83,668.62 703.55,668.77 713.60,669.30 C723.65,669.83 743.47,670.35 752.50,671.40 C761.53,672.45 762.02,673.63 767.80,675.60 C773.58,677.57 781.83,680.73 787.20,683.20 C792.57,685.67 793.70,686.30 800.00,690.40 C806.30,694.50 818.52,702.82 825.00,707.80 C831.48,712.78 834.50,716.02 838.90,720.30 C843.30,724.58 848.05,729.57 851.40,733.50 C854.75,737.43 857.73,742.17 859.00,743.90" fill="none" stroke="#000" stroke-width="1.4" stroke-linejoin="round" stroke-linecap="round"/>
<path d="M631.80,666.80 C641.87,667.07 676.72,667.52 692.20,668.40 C707.68,669.28 713.50,670.45 724.70,672.10 C735.90,673.75 748.98,675.27 759.40,678.30 C769.82,681.33 780.43,687.23 787.20,690.30 C793.97,693.37 794.40,692.98 800.00,696.70 C805.60,700.42 814.20,707.28 820.80,712.60 C827.40,717.92 834.50,723.38 839.60,728.60 C844.70,733.82 848.22,739.73 851.40,743.90 C854.58,748.07 857.48,751.98 858.70,753.60" fill="none" stroke="#000" stroke-width="1.4" stroke-linejoin="round" stroke-linecap="round"/>
<path d="M631.80,667.00 C641.87,667.30 676.72,667.72 692.20,668.80 C707.68,669.88 713.50,671.68 724.70,673.50 C735.90,675.32 748.98,676.58 759.40,679.70 C769.82,682.82 780.43,688.80 787.20,692.20 C793.97,695.60 794.40,696.12 800.00,700.10 C805.60,704.08 814.43,710.42 820.80,716.10 C827.17,721.78 833.10,728.07 838.20,734.20 C843.30,740.33 847.93,748.17 851.40,752.90 C854.87,757.63 857.73,760.98 859.00,762.60" fill="none" stroke="#000" stroke-width="1.4" stroke-linejoin="round" stroke-linecap="round"/>
<line x1="746.90" y1="649.90" x2="750.42" y2="660.74" stroke="#000" stroke-width="1.4"/>
<path d="M753.20,669.30 L747.57,661.67 L753.27,659.81 Z" fill="#000"/>
<line x1="802.10" y1="666.80" x2="793.02" y2="678.49" stroke="#000" stroke-width="1.4"/>
<path d="M787.50,685.60 L790.65,676.65 L795.39,680.33 Z" fill="#000"/>
<line x1="836.40" y1="690.40" x2="829.41" y2="704.00" stroke="#000" stroke-width="1.4"/>
<path d="M825.30,712.00 L826.75,702.62 L832.08,705.37 Z" fill="#000"/>
<line x1="769.70" y1="757.10" x2="794.12" y2="752.99" stroke="#000" stroke-width="1.4"/>
<path d="M803.00,751.50 L794.62,755.95 L793.63,750.03 Z" fill="#000"/>
<line x1="802.40" y1="782.80" x2="824.60" y2="782.59" stroke="#000" stroke-width="1.4"/>
<path d="M833.60,782.50 L824.63,785.59 L824.57,779.59 Z" fill="#000"/>
<line x1="826.70" y1="803.60" x2="843.77" y2="798.55" stroke="#000" stroke-width="1.4"/>
<path d="M852.40,796.00 L844.62,801.43 L842.92,795.68 Z" fill="#000"/>
<text transform="translate(622.90,570.50) scale(0.87,1)" font-family="Liberation Sans" font-size="15" font-weight="normal" fill="#111" text-anchor="end">80</text>
<text transform="translate(622.90,595.74) scale(0.87,1)" font-family="Liberation Sans" font-size="15" font-weight="normal" fill="#111" text-anchor="end">70</text>
<text transform="translate(622.90,620.98) scale(0.87,1)" font-family="Liberation Sans" font-size="15" font-weight="normal" fill="#111" text-anchor="end">60</text>
<text transform="translate(622.90,646.22) scale(0.87,1)" font-family="Liberation Sans" font-size="15" font-weight="normal" fill="#111" text-anchor="end">50</text>
<text transform="translate(622.90,671.46) scale(0.87,1)" font-family="Liberation Sans" font-size="15" font-weight="normal" fill="#111" text-anchor="end">40</text>
<text transform="translate(622.90,696.70) scale(0.87,1)" font-family="Liberation Sans" font-size="15" font-weight="normal" fill="#111" text-anchor="end">30</text>
<text transform="translate(622.90,721.94) scale(0.87,1)" font-family="Liberation Sans" font-size="15" font-weight="normal" fill="#111" text-anchor="end">20</text>
<text transform="translate(622.90,747.18) scale(0.87,1)" font-family="Liberation Sans" font-size="15" font-weight="normal" fill="#111" text-anchor="end">10</text>
<text transform="translate(622.90,772.42) scale(0.87,1)" font-family="Liberation Sans" font-size="15" font-weight="normal" fill="#111" text-anchor="end">0</text>
<text transform="translate(622.90,797.66) scale(0.87,1)" font-family="Liberation Sans" font-size="15" font-weight="normal" fill="#111" text-anchor="end">−10</text>
<text transform="translate(622.90,822.90) scale(0.87,1)" font-family="Liberation Sans" font-size="15" font-weight="normal" fill="#111" text-anchor="end">−20</text>
<text transform="translate(891.70,570.50) scale(0.87,1)" font-family="Liberation Sans" font-size="15" font-weight="normal" fill="#111" text-anchor="start">180</text>
<text transform="translate(891.70,620.98) scale(0.87,1)" font-family="Liberation Sans" font-size="15" font-weight="normal" fill="#111" text-anchor="start">135</text>
<text transform="translate(891.70,671.46) scale(0.87,1)" font-family="Liberation Sans" font-size="15" font-weight="normal" fill="#111" text-anchor="start">90</text>
<text transform="translate(891.70,721.94) scale(0.87,1)" font-family="Liberation Sans" font-size="15" font-weight="normal" fill="#111" text-anchor="start">45</text>
<text transform="translate(891.70,772.42) scale(0.87,1)" font-family="Liberation Sans" font-size="15" font-weight="normal" fill="#111" text-anchor="start">0</text>
<text transform="translate(891.70,822.90) scale(0.87,1)" font-family="Liberation Sans" font-size="15" font-weight="normal" fill="#111" text-anchor="start">−45</text>
<text transform="translate(632.60,841.20) scale(0.87,1)" font-family="Liberation Sans" font-size="15" font-weight="normal" fill="#111" text-anchor="middle">1k</text>
<text transform="translate(694.83,841.20) scale(0.87,1)" font-family="Liberation Sans" font-size="15" font-weight="normal" fill="#111" text-anchor="middle">10k</text>
<text transform="translate(758.05,841.20) scale(0.87,1)" font-family="Liberation Sans" font-size="15" font-weight="normal" fill="#111" text-anchor="middle">100k</text>
<text transform="translate(821.27,841.20) scale(0.87,1)" font-family="Liberation Sans" font-size="15" font-weight="normal" fill="#111" text-anchor="middle">1M</text>
<text transform="translate(884.50,841.20) scale(0.87,1)" font-family="Liberation Sans" font-size="15" font-weight="normal" fill="#111" text-anchor="middle">10M</text>
<text transform="translate(703.75,873.60) scale(0.75,1)" font-family="Liberation Sans" font-size="14.5" font-weight="normal" fill="#111" text-anchor="start" textLength="144.80" lengthAdjust="spacing">FREQUENCY (Hz)</text>
<text transform="translate(589.00,724.20) rotate(-90) scale(0.75,1)" font-family="Liberation Sans" font-size="14.5" font-weight="normal" fill="#111" text-anchor="start" textLength="84.27" lengthAdjust="spacing">GAIN (dB)</text>
<g transform="translate(937.40,726.10) rotate(-90)">
<text transform="translate(0.00,0.00) scale(0.75,1)" font-family="Liberation Sans" font-size="14.5" font-weight="normal" fill="#111" text-anchor="start" textLength="71.33" lengthAdjust="spacing">PHASE (</text>
<circle cx="59.3" cy="-5.3" r="2.8" fill="none" stroke="#111" stroke-width="1.05"/>
<text transform="translate(64.00,0.00) scale(0.75,1)" font-family="Liberation Sans" font-size="14.5" font-weight="normal" fill="#111" text-anchor="start">)</text>
</g>
<g transform="translate(809.70,582.10) rotate(0)">
<text transform="translate(0.00,0.00) scale(0.85,1)" font-family="Liberation Sans" font-size="14" font-weight="normal" fill="#111" text-anchor="start">V</text>
<text transform="translate(8.30,5.50) scale(0.85,1)" font-family="Liberation Sans" font-size="12.5" font-weight="normal" fill="#111" text-anchor="start">S</text>
<text transform="translate(23.60,0.00)" font-family="Liberation Sans" font-size="14" font-weight="normal" fill="#111" text-anchor="start">=</text>
<text transform="translate(41.70,0.00) scale(0.85,1)" font-family="Liberation Sans" font-size="14" font-weight="normal" fill="#111" text-anchor="start" textLength="27.76" lengthAdjust="spacing">15V</text>
</g>
<g transform="translate(809.70,605.00) rotate(0)">
<text transform="translate(0.00,0.00) scale(0.85,1)" font-family="Liberation Sans" font-size="14" font-weight="normal" fill="#111" text-anchor="start">R</text>
<text transform="translate(6.30,5.50) scale(0.85,1)" font-family="Liberation Sans" font-size="12.5" font-weight="normal" fill="#111" text-anchor="start">L</text>
<text transform="translate(21.60,0.00)" font-family="Liberation Sans" font-size="14" font-weight="normal" fill="#111" text-anchor="start">=</text>
<text transform="translate(38.20,0.00) scale(0.85,1)" font-family="Liberation Sans" font-size="14" font-weight="normal" fill="#111" text-anchor="start" textLength="34.35" lengthAdjust="spacing">2kΩ</text>
</g>
<text transform="translate(656.10,612.00) scale(0.85,1)" font-family="Liberation Sans" font-size="14" font-weight="normal" fill="#111" text-anchor="start" textLength="33.53" lengthAdjust="spacing">GAIN</text>
<text transform="translate(636.70,662.00) scale(0.85,1)" font-family="Liberation Sans" font-size="14" font-weight="normal" fill="#111" text-anchor="start" textLength="47.41" lengthAdjust="spacing">PHASE</text>
<text transform="translate(721.25,645.70) scale(0.85,1)" font-family="Liberation Sans" font-size="14" font-weight="normal" fill="#111" text-anchor="start" textLength="28.82" lengthAdjust="spacing">−55</text>
<circle cx="752.45" cy="638.50" r="2.7" fill="none" stroke="#111" stroke-width="1.25"/>
<text transform="translate(756.65,645.70) scale(0.8,1)" font-family="Liberation Sans" font-size="14" font-weight="normal" fill="#111" text-anchor="start">C</text>
<text transform="translate(793.75,662.00) scale(0.85,1)" font-family="Liberation Sans" font-size="14" font-weight="normal" fill="#111" text-anchor="start" textLength="17.53" lengthAdjust="spacing">85</text>
<circle cx="815.35" cy="654.80" r="2.7" fill="none" stroke="#111" stroke-width="1.25"/>
<text transform="translate(819.55,662.00) scale(0.8,1)" font-family="Liberation Sans" font-size="14" font-weight="normal" fill="#111" text-anchor="start">C</text>
<text transform="translate(832.00,684.90) scale(0.85,1)" font-family="Liberation Sans" font-size="14" font-weight="normal" fill="#111" text-anchor="start" textLength="26.47" lengthAdjust="spacing">125</text>
<circle cx="861.20" cy="677.70" r="2.7" fill="none" stroke="#111" stroke-width="1.25"/>
<text transform="translate(865.40,684.90) scale(0.8,1)" font-family="Liberation Sans" font-size="14" font-weight="normal" fill="#111" text-anchor="start">C</text>
<text transform="translate(721.25,760.30) scale(0.85,1)" font-family="Liberation Sans" font-size="14" font-weight="normal" fill="#111" text-anchor="start" textLength="27.18" lengthAdjust="spacing">125</text>
<circle cx="751.05" cy="753.10" r="2.7" fill="none" stroke="#111" stroke-width="1.25"/>
<text transform="translate(755.25,760.30) scale(0.8,1)" font-family="Liberation Sans" font-size="14" font-weight="normal" fill="#111" text-anchor="start">C</text>
<text transform="translate(763.50,787.00) scale(0.85,1)" font-family="Liberation Sans" font-size="14" font-weight="normal" fill="#111" text-anchor="start" textLength="18.24" lengthAdjust="spacing">85</text>
<circle cx="785.70" cy="779.80" r="2.7" fill="none" stroke="#111" stroke-width="1.25"/>
<text transform="translate(789.90,787.00) scale(0.8,1)" font-family="Liberation Sans" font-size="14" font-weight="normal" fill="#111" text-anchor="start">C</text>
<text transform="translate(778.75,808.50) scale(0.85,1)" font-family="Liberation Sans" font-size="14" font-weight="normal" fill="#111" text-anchor="start" textLength="28.12" lengthAdjust="spacing">−55</text>
<circle cx="809.35" cy="801.30" r="2.7" fill="none" stroke="#111" stroke-width="1.25"/>
<text transform="translate(813.55,808.50) scale(0.8,1)" font-family="Liberation Sans" font-size="14" font-weight="normal" fill="#111" text-anchor="start">C</text>
<rect x="84.00" y="936.00" width="334.00" height="312.00" fill="#fcfcfc"/>
<line x1="155.00" y1="937.30" x2="155.00" y2="1190.30" stroke="#333" stroke-width="1.6"/>
<line x1="180.35" y1="937.30" x2="180.35" y2="1190.30" stroke="#333" stroke-width="1.6"/>
<line x1="195.17" y1="937.30" x2="195.17" y2="1190.30" stroke="#333" stroke-width="1.6"/>
<line x1="205.69" y1="937.30" x2="205.69" y2="1190.30" stroke="#333" stroke-width="1.6"/>
<line x1="213.85" y1="937.30" x2="213.85" y2="1190.30" stroke="#333" stroke-width="1.6"/>
<line x1="220.52" y1="937.30" x2="220.52" y2="1190.30" stroke="#333" stroke-width="1.6"/>
<line x1="226.16" y1="937.30" x2="226.16" y2="1190.30" stroke="#333" stroke-width="1.6"/>
<line x1="231.04" y1="937.30" x2="231.04" y2="1190.30" stroke="#333" stroke-width="1.6"/>
<line x1="235.35" y1="937.30" x2="235.35" y2="1190.30" stroke="#333" stroke-width="1.6"/>
<line x1="239.20" y1="937.30" x2="239.20" y2="1190.30" stroke="#333" stroke-width="1.6"/>
<line x1="264.55" y1="937.30" x2="264.55" y2="1190.30" stroke="#333" stroke-width="1.6"/>
<line x1="279.37" y1="937.30" x2="279.37" y2="1190.30" stroke="#333" stroke-width="1.6"/>
<line x1="289.89" y1="937.30" x2="289.89" y2="1190.30" stroke="#333" stroke-width="1.6"/>
<line x1="298.05" y1="937.30" x2="298.05" y2="1190.30" stroke="#333" stroke-width="1.6"/>
<line x1="304.72" y1="937.30" x2="304.72" y2="1190.30" stroke="#333" stroke-width="1.6"/>
<line x1="310.36" y1="937.30" x2="310.36" y2="1190.30" stroke="#333" stroke-width="1.6"/>
<line x1="315.24" y1="937.30" x2="315.24" y2="1190.30" stroke="#333" stroke-width="1.6"/>
<line x1="319.55" y1="937.30" x2="319.55" y2="1190.30" stroke="#333" stroke-width="1.6"/>
<line x1="323.40" y1="937.30" x2="323.40" y2="1190.30" stroke="#333" stroke-width="1.6"/>
<line x1="348.75" y1="937.30" x2="348.75" y2="1190.30" stroke="#333" stroke-width="1.6"/>
<line x1="363.57" y1="937.30" x2="363.57" y2="1190.30" stroke="#333" stroke-width="1.6"/>
<line x1="374.09" y1="937.30" x2="374.09" y2="1190.30" stroke="#333" stroke-width="1.6"/>
<line x1="382.25" y1="937.30" x2="382.25" y2="1190.30" stroke="#333" stroke-width="1.6"/>
<line x1="388.92" y1="937.30" x2="388.92" y2="1190.30" stroke="#333" stroke-width="1.6"/>
<line x1="394.56" y1="937.30" x2="394.56" y2="1190.30" stroke="#333" stroke-width="1.6"/>
<line x1="399.44" y1="937.30" x2="399.44" y2="1190.30" stroke="#333" stroke-width="1.6"/>
<line x1="403.75" y1="937.30" x2="403.75" y2="1190.30" stroke="#333" stroke-width="1.6"/>
<line x1="407.60" y1="937.30" x2="407.60" y2="1190.30" stroke="#333" stroke-width="1.6"/>
<line x1="155.00" y1="937.30" x2="407.60" y2="937.30" stroke="#333" stroke-width="1.6"/>
<line x1="155.00" y1="953.11" x2="407.60" y2="953.11" stroke="#333" stroke-width="1.6"/>
<line x1="155.00" y1="968.92" x2="407.60" y2="968.92" stroke="#333" stroke-width="1.6"/>
<line x1="155.00" y1="984.74" x2="407.60" y2="984.74" stroke="#333" stroke-width="1.6"/>
<line x1="155.00" y1="1000.55" x2="407.60" y2="1000.55" stroke="#333" stroke-width="1.6"/>
<line x1="155.00" y1="1016.36" x2="407.60" y2="1016.36" stroke="#333" stroke-width="1.6"/>
<line x1="155.00" y1="1032.17" x2="407.60" y2="1032.17" stroke="#333" stroke-width="1.6"/>
<line x1="155.00" y1="1047.99" x2="407.60" y2="1047.99" stroke="#333" stroke-width="1.6"/>
<line x1="155.00" y1="1063.80" x2="407.60" y2="1063.80" stroke="#333" stroke-width="1.6"/>
<line x1="155.00" y1="1079.61" x2="407.60" y2="1079.61" stroke="#333" stroke-width="1.6"/>
<line x1="155.00" y1="1095.42" x2="407.60" y2="1095.42" stroke="#333" stroke-width="1.6"/>
<line x1="155.00" y1="1111.24" x2="407.60" y2="1111.24" stroke="#333" stroke-width="1.6"/>
<line x1="155.00" y1="1127.05" x2="407.60" y2="1127.05" stroke="#333" stroke-width="1.6"/>
<line x1="155.00" y1="1142.86" x2="407.60" y2="1142.86" stroke="#333" stroke-width="1.6"/>
<line x1="155.00" y1="1158.67" x2="407.60" y2="1158.67" stroke="#333" stroke-width="1.6"/>
<line x1="155.00" y1="1174.49" x2="407.60" y2="1174.49" stroke="#333" stroke-width="1.6"/>
<line x1="155.00" y1="1190.30" x2="407.60" y2="1190.30" stroke="#333" stroke-width="1.6"/>
<rect x="265.50" y="972.90" width="81.50" height="90.50" fill="#fff"/>
<path d="M155.00,963.20 C189.78,963.20 328.92,963.20 363.70,963.20" fill="none" stroke="#000" stroke-width="3.0" stroke-linejoin="round" stroke-linecap="round"/>
<path d="M362.00,963.20 C362.58,963.33 364.55,963.45 365.50,964.00 C366.45,964.55 366.53,963.17 367.70,966.50 C368.87,969.83 370.65,976.07 372.50,984.00 C374.35,991.93 376.68,1003.52 378.80,1014.10 C380.92,1024.68 383.62,1038.23 385.20,1047.50 C386.78,1056.77 386.82,1062.92 388.30,1069.70 C389.78,1076.48 392.15,1083.02 394.10,1088.20 C396.05,1093.38 397.73,1096.27 400.00,1100.80 C402.27,1105.33 406.42,1112.97 407.70,1115.40" fill="none" stroke="#000" stroke-width="3.0" stroke-linejoin="round" stroke-linecap="round"/>
<text transform="translate(146.80,958.00) scale(0.87,1)" font-family="Liberation Sans" font-size="15" font-weight="normal" fill="#111" text-anchor="end">15</text>
<text transform="translate(146.80,1037.20) scale(0.87,1)" font-family="Liberation Sans" font-size="15" font-weight="normal" fill="#111" text-anchor="end">10</text>
<text transform="translate(146.80,1116.10) scale(0.87,1)" font-family="Liberation Sans" font-size="15" font-weight="normal" fill="#111" text-anchor="end">5</text>
<text transform="translate(146.80,1195.30) scale(0.87,1)" font-family="Liberation Sans" font-size="15" font-weight="normal" fill="#111" text-anchor="end">0</text>
<text transform="translate(158.60,1213.20) scale(0.87,1)" font-family="Liberation Sans" font-size="15" font-weight="normal" fill="#111" text-anchor="middle">0.1</text>
<text transform="translate(239.20,1213.20) scale(0.87,1)" font-family="Liberation Sans" font-size="15" font-weight="normal" fill="#111" text-anchor="middle">1</text>
<text transform="translate(323.40,1213.20) scale(0.87,1)" font-family="Liberation Sans" font-size="15" font-weight="normal" fill="#111" text-anchor="middle">10</text>
<text transform="translate(407.60,1213.20) scale(0.87,1)" font-family="Liberation Sans" font-size="15" font-weight="normal" fill="#111" text-anchor="middle">100</text>
<text transform="translate(223.30,1246.00) scale(0.75,1)" font-family="Liberation Sans" font-size="14.5" font-weight="normal" fill="#111" text-anchor="start" textLength="154.80" lengthAdjust="spacing">FREQUENCY (kHz)</text>
<g transform="translate(97,1131.7) rotate(-90)">
<text transform="translate(0.00,0.00) scale(0.75,1)" font-family="Liberation Sans" font-size="14.5" font-weight="normal" fill="#111" text-anchor="start" textLength="148.00" lengthAdjust="spacing">OUTPUT SWING (V</text>
<text transform="translate(113.00,4.50) scale(0.8,1)" font-family="Liberation Sans" font-size="12.5" font-weight="normal" fill="#111" text-anchor="start" textLength="17.50" lengthAdjust="spacing">PP</text>
<text transform="translate(129.50,0.00) scale(0.75,1)" font-family="Liberation Sans" font-size="14.5" font-weight="normal" fill="#111" text-anchor="start">)</text>
</g>
<g transform="translate(272.50,991.90) rotate(0)">
<text transform="translate(0.00,0.00) scale(0.85,1)" font-family="Liberation Sans" font-size="14" font-weight="normal" fill="#111" text-anchor="start">A</text>
<text transform="translate(7.90,5.50) scale(0.85,1)" font-family="Liberation Sans" font-size="12.5" font-weight="normal" fill="#111" text-anchor="start">V</text>
<text transform="translate(23.00,0.00)" font-family="Liberation Sans" font-size="14" font-weight="normal" fill="#111" text-anchor="start">=</text>
<text transform="translate(40.40,0.00) scale(0.85,1)" font-family="Liberation Sans" font-size="14" font-weight="normal" fill="#111" text-anchor="start" textLength="17.76" lengthAdjust="spacing">+1</text>
</g>
<g transform="translate(272.50,1014.10) rotate(0)">
<text transform="translate(0.00,0.00) scale(0.85,1)" font-family="Liberation Sans" font-size="14" font-weight="normal" fill="#111" text-anchor="start">V</text>
<text transform="translate(7.90,5.50) scale(0.85,1)" font-family="Liberation Sans" font-size="12.5" font-weight="normal" fill="#111" text-anchor="start">S</text>
<text transform="translate(23.00,0.00)" font-family="Liberation Sans" font-size="14" font-weight="normal" fill="#111" text-anchor="start">=</text>
<text transform="translate(41.20,0.00) scale(0.85,1)" font-family="Liberation Sans" font-size="14" font-weight="normal" fill="#111" text-anchor="start" textLength="28.00" lengthAdjust="spacing">15V</text>
</g>
<g transform="translate(272.50,1036.30) rotate(0)">
<text transform="translate(0.00,0.00) scale(0.85,1)" font-family="Liberation Sans" font-size="14" font-weight="normal" fill="#111" text-anchor="start">R</text>
<text transform="translate(6.30,5.50) scale(0.85,1)" font-family="Liberation Sans" font-size="12.5" font-weight="normal" fill="#111" text-anchor="start">L</text>
<text transform="translate(21.40,0.00)" font-family="Liberation Sans" font-size="14" font-weight="normal" fill="#111" text-anchor="start">=</text>
<text transform="translate(38.10,0.00) scale(0.85,1)" font-family="Liberation Sans" font-size="14" font-weight="normal" fill="#111" text-anchor="start" textLength="34.47" lengthAdjust="spacing">2kΩ</text>
</g>
<text transform="translate(272.50,1057.80) scale(0.85,1)" font-family="Liberation Sans" font-size="14" font-weight="normal" fill="#111" text-anchor="start" textLength="28.00" lengthAdjust="spacing">THD</text>
<text transform="translate(305.00,1057.80)" font-family="Liberation Sans" font-size="14" font-weight="normal" fill="#111" text-anchor="start">=</text>
<text transform="translate(320.90,1057.80) scale(0.85,1)" font-family="Liberation Sans" font-size="14" font-weight="normal" fill="#111" text-anchor="start" textLength="22.35" lengthAdjust="spacing">3%</text>
<rect x="575.00" y="936.00" width="364.00" height="317.00" fill="#fcfcfc"/>
<line x1="636.80" y1="943.20" x2="636.80" y2="1194.80" stroke="#333" stroke-width="1.6"/>
<line x1="662.15" y1="943.20" x2="662.15" y2="1194.80" stroke="#333" stroke-width="1.6"/>
<line x1="676.97" y1="943.20" x2="676.97" y2="1194.80" stroke="#333" stroke-width="1.6"/>
<line x1="687.49" y1="943.20" x2="687.49" y2="1194.80" stroke="#333" stroke-width="1.6"/>
<line x1="695.65" y1="943.20" x2="695.65" y2="1194.80" stroke="#333" stroke-width="1.6"/>
<line x1="702.32" y1="943.20" x2="702.32" y2="1194.80" stroke="#333" stroke-width="1.6"/>
<line x1="707.96" y1="943.20" x2="707.96" y2="1194.80" stroke="#333" stroke-width="1.6"/>
<line x1="712.84" y1="943.20" x2="712.84" y2="1194.80" stroke="#333" stroke-width="1.6"/>
<line x1="717.15" y1="943.20" x2="717.15" y2="1194.80" stroke="#333" stroke-width="1.6"/>
<line x1="721.00" y1="943.20" x2="721.00" y2="1194.80" stroke="#333" stroke-width="1.6"/>
<line x1="746.35" y1="943.20" x2="746.35" y2="1194.80" stroke="#333" stroke-width="1.6"/>
<line x1="761.17" y1="943.20" x2="761.17" y2="1194.80" stroke="#333" stroke-width="1.6"/>
<line x1="771.69" y1="943.20" x2="771.69" y2="1194.80" stroke="#333" stroke-width="1.6"/>
<line x1="779.85" y1="943.20" x2="779.85" y2="1194.80" stroke="#333" stroke-width="1.6"/>
<line x1="786.52" y1="943.20" x2="786.52" y2="1194.80" stroke="#333" stroke-width="1.6"/>
<line x1="792.16" y1="943.20" x2="792.16" y2="1194.80" stroke="#333" stroke-width="1.6"/>
<line x1="797.04" y1="943.20" x2="797.04" y2="1194.80" stroke="#333" stroke-width="1.6"/>
<line x1="801.35" y1="943.20" x2="801.35" y2="1194.80" stroke="#333" stroke-width="1.6"/>
<line x1="805.20" y1="943.20" x2="805.20" y2="1194.80" stroke="#333" stroke-width="1.6"/>
<line x1="830.55" y1="943.20" x2="830.55" y2="1194.80" stroke="#333" stroke-width="1.6"/>
<line x1="845.37" y1="943.20" x2="845.37" y2="1194.80" stroke="#333" stroke-width="1.6"/>
<line x1="855.89" y1="943.20" x2="855.89" y2="1194.80" stroke="#333" stroke-width="1.6"/>
<line x1="864.05" y1="943.20" x2="864.05" y2="1194.80" stroke="#333" stroke-width="1.6"/>
<line x1="870.72" y1="943.20" x2="870.72" y2="1194.80" stroke="#333" stroke-width="1.6"/>
<line x1="876.36" y1="943.20" x2="876.36" y2="1194.80" stroke="#333" stroke-width="1.6"/>
<line x1="881.24" y1="943.20" x2="881.24" y2="1194.80" stroke="#333" stroke-width="1.6"/>
<line x1="885.55" y1="943.20" x2="885.55" y2="1194.80" stroke="#333" stroke-width="1.6"/>
<line x1="889.40" y1="943.20" x2="889.40" y2="1194.80" stroke="#333" stroke-width="1.6"/>
<line x1="636.80" y1="943.20" x2="889.40" y2="943.20" stroke="#333" stroke-width="1.6"/>
<line x1="636.80" y1="968.36" x2="889.40" y2="968.36" stroke="#333" stroke-width="1.6"/>
<line x1="636.80" y1="993.52" x2="889.40" y2="993.52" stroke="#333" stroke-width="1.6"/>
<line x1="636.80" y1="1018.68" x2="889.40" y2="1018.68" stroke="#333" stroke-width="1.6"/>
<line x1="636.80" y1="1043.84" x2="889.40" y2="1043.84" stroke="#333" stroke-width="1.6"/>
<line x1="636.80" y1="1069.00" x2="889.40" y2="1069.00" stroke="#333" stroke-width="1.6"/>
<line x1="636.80" y1="1094.16" x2="889.40" y2="1094.16" stroke="#333" stroke-width="1.6"/>
<line x1="636.80" y1="1119.32" x2="889.40" y2="1119.32" stroke="#333" stroke-width="1.6"/>
<line x1="636.80" y1="1144.48" x2="889.40" y2="1144.48" stroke="#333" stroke-width="1.6"/>
<line x1="636.80" y1="1169.64" x2="889.40" y2="1169.64" stroke="#333" stroke-width="1.6"/>
<line x1="636.80" y1="1194.80" x2="889.40" y2="1194.80" stroke="#333" stroke-width="1.6"/>
<rect x="797.40" y="944.20" width="91.00" height="48.00" fill="#fff"/>
<rect x="719.00" y="952.50" width="42.00" height="15.00" fill="#fff"/>
<rect x="711.00" y="1022.40" width="31.00" height="15.90" fill="#fff"/>
<rect x="747.60" y="1094.70" width="81.40" height="48.60" fill="#fff"/>
<rect x="-33.00" y="-10.00" width="66.00" height="20.00" fill="#fff" transform="translate(816.00,1039.00) rotate(48)"/>
<rect x="-19.00" y="-9.50" width="38.00" height="19.00" fill="#fff" transform="translate(843.00,1025.00) rotate(45)"/>
<line x1="636.80" y1="943.20" x2="636.80" y2="1194.80" stroke="#333" stroke-width="1.6"/>
<line x1="889.40" y1="943.20" x2="889.40" y2="1194.80" stroke="#333" stroke-width="1.6"/>
<line x1="636.80" y1="943.20" x2="889.40" y2="943.20" stroke="#333" stroke-width="1.6"/>
<line x1="636.80" y1="1194.80" x2="889.40" y2="1194.80" stroke="#333" stroke-width="1.6"/>
<path d="M636.90,947.90 C642.70,951.38 663.27,963.50 671.70,968.80 C680.13,974.10 681.22,975.57 687.50,979.70 C693.78,983.83 702.32,989.13 709.40,993.60 C716.48,998.07 723.72,1002.45 730.00,1006.50 C736.28,1010.55 740.37,1013.33 747.10,1017.90 C753.83,1022.47 763.55,1029.15 770.40,1033.90 C777.25,1038.65 782.55,1042.53 788.20,1046.40 C793.85,1050.27 799.83,1053.82 804.30,1057.10 C808.77,1060.38 810.23,1062.22 815.00,1066.10 C819.77,1069.98 826.20,1075.05 832.90,1080.40 C839.60,1085.75 851.48,1095.23 855.20,1098.20" fill="none" stroke="#000" stroke-width="2.8" stroke-linejoin="round" stroke-linecap="round"/>
<path d="M804.30,1057.10 C804.90,1057.62 804.93,1057.22 807.90,1060.20 C810.87,1063.18 818.37,1070.87 822.10,1075.00 C825.83,1079.13 826.85,1079.87 830.30,1085.00 C833.75,1090.13 838.63,1097.75 842.80,1105.80 C846.97,1113.85 853.22,1128.72 855.30,1133.30" fill="none" stroke="#000" stroke-width="2.8" stroke-linejoin="round" stroke-linecap="round"/>
<path d="M636.80,967.60 C642.70,967.70 663.33,968.01 672.20,968.20 C681.07,968.39 683.80,968.45 690.00,968.75 C696.20,969.05 702.73,969.04 709.40,970.00 C716.07,970.96 724.30,973.20 730.00,974.50 C735.70,975.80 736.87,975.48 743.60,977.80 C750.33,980.12 762.67,985.00 770.40,988.40 C778.13,991.80 784.35,995.08 790.00,998.20 C795.65,1001.32 799.53,1003.68 804.30,1007.10 C809.07,1010.52 814.13,1014.58 818.60,1018.75 C823.07,1022.92 826.93,1027.19 831.10,1032.10 C835.27,1037.01 839.58,1042.83 843.60,1048.20 C847.62,1053.57 853.27,1061.62 855.20,1064.30" fill="none" stroke="#000" stroke-width="2.8" stroke-linejoin="round" stroke-linecap="round"/>
<path d="M672.20,968.40 C675.17,968.75 682.57,969.25 690.00,970.50 C697.43,971.75 709.37,973.67 716.80,975.90 C724.23,978.13 728.65,981.07 734.60,983.90 C740.55,986.73 746.53,989.32 752.50,992.90 C758.47,996.48 764.75,1001.09 770.40,1005.40 C776.05,1009.71 781.95,1014.58 786.40,1018.75 C790.85,1022.92 794.12,1026.23 797.10,1030.40 C800.08,1034.57 802.22,1039.30 804.30,1043.75 C806.38,1048.20 807.82,1052.49 809.60,1057.10 C811.38,1061.71 812.62,1064.85 815.00,1071.40 C817.38,1077.95 820.20,1085.33 823.90,1096.40 C827.60,1107.47 831.97,1122.57 837.20,1137.80 C842.43,1153.03 852.28,1179.47 855.30,1187.80" fill="none" stroke="#000" stroke-width="2.8" stroke-linejoin="round" stroke-linecap="round"/>
<line x1="797.00" y1="1107.90" x2="831.17" y2="1091.66" stroke="#000" stroke-width="1.4"/>
<path d="M839.30,1087.80 L832.46,1094.37 L829.88,1088.95 Z" fill="#000"/>
<line x1="817.10" y1="1120.40" x2="833.87" y2="1112.95" stroke="#000" stroke-width="1.4"/>
<path d="M842.10,1109.30 L835.09,1115.69 L832.66,1110.21 Z" fill="#000"/>
<text transform="translate(628.30,947.90) scale(0.87,1)" font-family="Liberation Sans" font-size="15" font-weight="normal" fill="#111" text-anchor="end">50</text>
<text transform="translate(628.30,973.06) scale(0.87,1)" font-family="Liberation Sans" font-size="15" font-weight="normal" fill="#111" text-anchor="end">40</text>
<text transform="translate(628.30,998.22) scale(0.87,1)" font-family="Liberation Sans" font-size="15" font-weight="normal" fill="#111" text-anchor="end">30</text>
<text transform="translate(628.30,1023.38) scale(0.87,1)" font-family="Liberation Sans" font-size="15" font-weight="normal" fill="#111" text-anchor="end">20</text>
<text transform="translate(628.30,1048.54) scale(0.87,1)" font-family="Liberation Sans" font-size="15" font-weight="normal" fill="#111" text-anchor="end">10</text>
<text transform="translate(628.30,1073.70) scale(0.87,1)" font-family="Liberation Sans" font-size="15" font-weight="normal" fill="#111" text-anchor="end">0</text>
<text transform="translate(628.30,1098.86) scale(0.87,1)" font-family="Liberation Sans" font-size="15" font-weight="normal" fill="#111" text-anchor="end">−10</text>
<text transform="translate(628.30,1124.02) scale(0.87,1)" font-family="Liberation Sans" font-size="15" font-weight="normal" fill="#111" text-anchor="end">−20</text>
<text transform="translate(628.30,1149.18) scale(0.87,1)" font-family="Liberation Sans" font-size="15" font-weight="normal" fill="#111" text-anchor="end">−30</text>
<text transform="translate(628.30,1174.34) scale(0.87,1)" font-family="Liberation Sans" font-size="15" font-weight="normal" fill="#111" text-anchor="end">−40</text>
<text transform="translate(628.30,1199.50) scale(0.87,1)" font-family="Liberation Sans" font-size="15" font-weight="normal" fill="#111" text-anchor="end">−50</text>
<text transform="translate(896.50,973.56) scale(0.87,1)" font-family="Liberation Sans" font-size="15" font-weight="normal" fill="#111" text-anchor="start">90</text>
<text transform="translate(896.50,1023.88) scale(0.87,1)" font-family="Liberation Sans" font-size="15" font-weight="normal" fill="#111" text-anchor="start">45</text>
<text transform="translate(896.50,1074.20) scale(0.87,1)" font-family="Liberation Sans" font-size="15" font-weight="normal" fill="#111" text-anchor="start">0</text>
<text transform="translate(896.50,1124.52) scale(0.87,1)" font-family="Liberation Sans" font-size="15" font-weight="normal" fill="#111" text-anchor="start">45</text>
<text transform="translate(896.50,1174.84) scale(0.87,1)" font-family="Liberation Sans" font-size="15" font-weight="normal" fill="#111" text-anchor="start">90</text>
<text transform="translate(641.20,1218.30) scale(0.87,1)" font-family="Liberation Sans" font-size="15" font-weight="normal" fill="#111" text-anchor="middle">10k</text>
<text transform="translate(721.00,1218.30) scale(0.87,1)" font-family="Liberation Sans" font-size="15" font-weight="normal" fill="#111" text-anchor="middle">100k</text>
<text transform="translate(805.20,1218.30) scale(0.87,1)" font-family="Liberation Sans" font-size="15" font-weight="normal" fill="#111" text-anchor="middle">1M</text>
<text transform="translate(889.40,1218.30) scale(0.87,1)" font-family="Liberation Sans" font-size="15" font-weight="normal" fill="#111" text-anchor="middle">10M</text>
<text transform="translate(708.20,1250.40) scale(0.75,1)" font-family="Liberation Sans" font-size="14.5" font-weight="normal" fill="#111" text-anchor="start" textLength="144.80" lengthAdjust="spacing">FREQUENCY (Hz)</text>
<text transform="translate(588.50,1101.10) rotate(-90) scale(0.75,1)" font-family="Liberation Sans" font-size="14.5" font-weight="normal" fill="#111" text-anchor="start" textLength="85.60" lengthAdjust="spacing">GAIN (dB)</text>
<g transform="translate(936.50,1103.00) rotate(-90)">
<text transform="translate(0.00,0.00) scale(0.75,1)" font-family="Liberation Sans" font-size="14.5" font-weight="normal" fill="#111" text-anchor="start" textLength="71.33" lengthAdjust="spacing">PHASE (</text>
<circle cx="59.3" cy="-5.3" r="2.8" fill="none" stroke="#111" stroke-width="1.05"/>
<text transform="translate(64.00,0.00) scale(0.75,1)" font-family="Liberation Sans" font-size="14.5" font-weight="normal" fill="#111" text-anchor="start">)</text>
</g>
<g transform="translate(807.10,959.20) rotate(0)">
<text transform="translate(0.00,0.00) scale(0.85,1)" font-family="Liberation Sans" font-size="14" font-weight="normal" fill="#111" text-anchor="start">V</text>
<text transform="translate(6.20,5.50) scale(0.85,1)" font-family="Liberation Sans" font-size="12.5" font-weight="normal" fill="#111" text-anchor="start">S</text>
<text transform="translate(20.10,0.00)" font-family="Liberation Sans" font-size="14" font-weight="normal" fill="#111" text-anchor="start">=</text>
<text transform="translate(36.10,0.00) scale(0.85,1)" font-family="Liberation Sans" font-size="14" font-weight="normal" fill="#111" text-anchor="start" textLength="24.47" lengthAdjust="spacing">15V</text>
</g>
<g transform="translate(806.40,978.60) rotate(0)">
<text transform="translate(0.00,0.00) scale(0.85,1)" font-family="Liberation Sans" font-size="14" font-weight="normal" fill="#111" text-anchor="start">R</text>
<text transform="translate(5.60,5.50) scale(0.85,1)" font-family="Liberation Sans" font-size="12.5" font-weight="normal" fill="#111" text-anchor="start">L</text>
<text transform="translate(19.40,0.00)" font-family="Liberation Sans" font-size="14" font-weight="normal" fill="#111" text-anchor="start">=</text>
<text transform="translate(34.00,0.00) scale(0.85,1)" font-family="Liberation Sans" font-size="14" font-weight="normal" fill="#111" text-anchor="start" textLength="49.06" lengthAdjust="spacing">500kΩ</text>
</g>
<text transform="translate(722.20,966.10) scale(0.72,1)" font-family="Liberation Sans" font-size="13" font-weight="normal" fill="#111" text-anchor="start" textLength="49.17" lengthAdjust="spacing">PHASE</text>
<text transform="translate(713.90,1034.90) scale(0.72,1)" font-family="Liberation Sans" font-size="13" font-weight="normal" fill="#111" text-anchor="start" textLength="34.72" lengthAdjust="spacing">GAIN</text>
<g transform="translate(751.10,1113.50) rotate(0)">
<text transform="translate(0.00,0.00) scale(0.85,1)" font-family="Liberation Sans" font-size="14" font-weight="normal" fill="#111" text-anchor="start">C</text>
<text transform="translate(6.30,5.50) scale(0.85,1)" font-family="Liberation Sans" font-size="12.5" font-weight="normal" fill="#111" text-anchor="start">L</text>
<text transform="translate(19.50,0.00)" font-family="Liberation Sans" font-size="14" font-weight="normal" fill="#111" text-anchor="start">=</text>
<text transform="translate(34.70,0.00) scale(0.85,1)" font-family="Liberation Sans" font-size="14" font-weight="normal" fill="#111" text-anchor="start" textLength="6.59" lengthAdjust="spacing">0</text>
</g>
<g transform="translate(751.10,1134.30) rotate(0)">
<text transform="translate(0.00,0.00) scale(0.85,1)" font-family="Liberation Sans" font-size="14" font-weight="normal" fill="#111" text-anchor="start">C</text>
<text transform="translate(6.30,5.50) scale(0.85,1)" font-family="Liberation Sans" font-size="12.5" font-weight="normal" fill="#111" text-anchor="start">L</text>
<text transform="translate(19.50,0.00)" font-family="Liberation Sans" font-size="14" font-weight="normal" fill="#111" text-anchor="start">=</text>
<text transform="translate(34.00,0.00) scale(0.85,1)" font-family="Liberation Sans" font-size="14" font-weight="normal" fill="#111" text-anchor="start" textLength="45.76" lengthAdjust="spacing">500pF</text>
</g>
<g transform="translate(791.00,1018.00) rotate(48)">
<text transform="translate(0.00,0.00) scale(0.85,1)" font-family="Liberation Sans" font-size="12.5" font-weight="normal" fill="#111" text-anchor="start">C</text>
<text transform="translate(6.30,5.50) scale(0.85,1)" font-family="Liberation Sans" font-size="12.5" font-weight="normal" fill="#111" text-anchor="start">L</text>
<text transform="translate(18.00,0.00)" font-family="Liberation Sans" font-size="12.5" font-weight="normal" fill="#111" text-anchor="start">=</text>
<text transform="translate(28.00,0.00) scale(0.85,1)" font-family="Liberation Sans" font-size="12.5" font-weight="normal" fill="#111" text-anchor="start" textLength="42.35" lengthAdjust="spacing">500pF</text>
</g>
<g transform="translate(827.00,1013.00) rotate(45)">
<text transform="translate(0.00,0.00) scale(0.85,1)" font-family="Liberation Sans" font-size="12.5" font-weight="normal" fill="#111" text-anchor="start">C</text>
<text transform="translate(6.30,5.50) scale(0.85,1)" font-family="Liberation Sans" font-size="12.5" font-weight="normal" fill="#111" text-anchor="start">L</text>
<text transform="translate(18.00,0.00)" font-family="Liberation Sans" font-size="12.5" font-weight="normal" fill="#111" text-anchor="start">=</text>
<text transform="translate(30.00,0.00) scale(0.85,1)" font-family="Liberation Sans" font-size="12.5" font-weight="normal" fill="#111" text-anchor="start" textLength="7.06" lengthAdjust="spacing">0</text>
</g>
</svg></body></html>
